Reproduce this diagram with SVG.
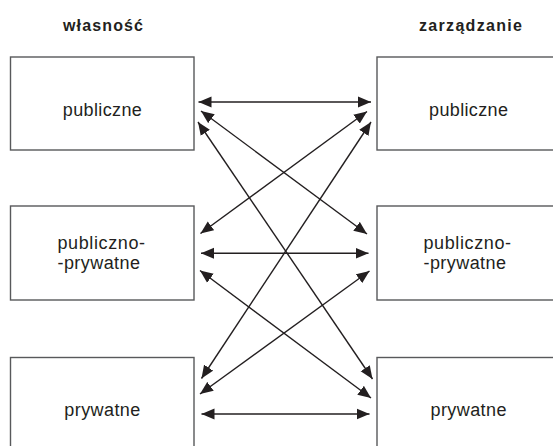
<svg xmlns="http://www.w3.org/2000/svg" width="553" height="446" viewBox="0 0 553 446">
<style>
.box{fill:#fff;stroke:#58595b;stroke-width:1.4}
.t{font-family:"Liberation Sans",Arial,sans-serif;font-size:18px;fill:#231f20}
.h{font-family:"Liberation Sans",Arial,sans-serif;font-size:16px;font-weight:bold;fill:#231f20}
.c line{stroke:#231f20;stroke-width:1.4;marker-start:url(#ah);marker-end:url(#ah)}
</style>
<defs>
<marker id="ah" markerUnits="userSpaceOnUse" markerWidth="14" markerHeight="12" viewBox="0 0 14 12" refX="13" refY="6" orient="auto-start-reverse">
<path d="M0,0.5 L13,6 L0,11.5 Z" fill="#231f20"/>
</marker>
</defs>
<rect width="553" height="446" fill="#fff"/>
<text class="h" x="103" y="31" text-anchor="middle" textLength="80" lengthAdjust="spacing">własność</text>
<text class="h" x="470.5" y="31" text-anchor="middle" textLength="103" lengthAdjust="spacing">zarządzanie</text>
<g id="own-public"><rect class="box" x="10.5" y="57" width="183.5" height="93"/><text class="t" x="102.3" y="116" text-anchor="middle" textLength="79" lengthAdjust="spacing">publiczne</text></g>
<g id="own-mixed"><rect class="box" x="10.5" y="206" width="183.5" height="94"/><text class="t" x="57.5" y="249" textLength="87.5" lengthAdjust="spacing">publiczno-</text><text class="t" x="57.5" y="269" textLength="82.5" lengthAdjust="spacing">-prywatne</text></g>
<g id="own-private"><rect class="box" x="10.5" y="357.5" width="183.5" height="95"/><text class="t" x="102.3" y="416" text-anchor="middle" textLength="76" lengthAdjust="spacing">prywatne</text></g>
<g id="mgmt-public"><rect class="box" x="377" y="57" width="183.5" height="93"/><text class="t" x="468.5" y="116" text-anchor="middle" textLength="79" lengthAdjust="spacing">publiczne</text></g>
<g id="mgmt-mixed"><rect class="box" x="377" y="206" width="183.5" height="94"/><text class="t" x="423.5" y="249" textLength="87.5" lengthAdjust="spacing">publiczno-</text><text class="t" x="423.5" y="269" textLength="82.5" lengthAdjust="spacing">-prywatne</text></g>
<g id="mgmt-private"><rect class="box" x="377" y="357.5" width="183.5" height="95"/><text class="t" x="468.5" y="416" text-anchor="middle" textLength="76" lengthAdjust="spacing">prywatne</text></g>
<g id="connectors" class="c">
<line x1="198.5" y1="102" x2="371" y2="102"/>
<line x1="201" y1="253.3" x2="368.5" y2="253.3"/>
<line x1="201.5" y1="414" x2="369.5" y2="414"/>
<line x1="201" y1="111" x2="367" y2="234"/>
<line x1="367" y1="111.5" x2="200.5" y2="233.5"/>
<line x1="198" y1="122" x2="372.5" y2="379"/>
<line x1="371" y1="122" x2="201.5" y2="378.5"/>
<line x1="200" y1="270.5" x2="371" y2="398"/>
<line x1="369.5" y1="271" x2="200" y2="394"/>
</g>
</svg>
